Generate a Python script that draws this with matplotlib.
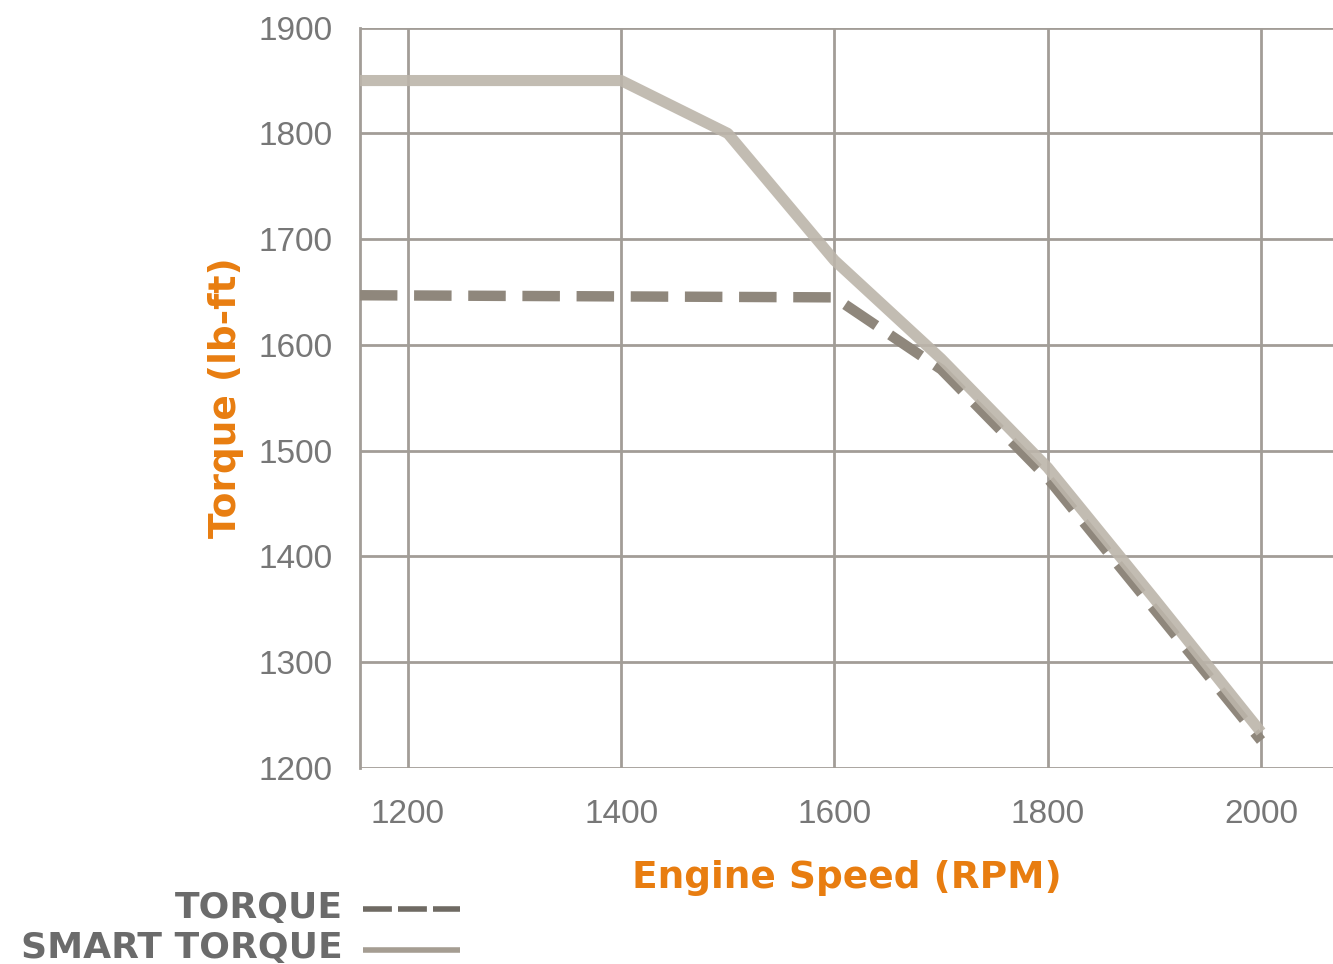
import matplotlib
matplotlib.use("Agg")
import matplotlib.pyplot as plt
from matplotlib.lines import Line2D

# Data
rpm_smart = [1155, 1400, 1500, 1600, 1700, 1800, 1900, 2000]
smart_torque = [1850, 1850, 1800, 1680, 1587, 1484, 1360, 1234]
rpm_torque = [1155, 1600, 1700, 1800, 1900, 2000]
torque = [1647, 1645, 1577, 1474, 1350, 1226]
x_ticks = [1200, 1400, 1600, 1800, 2000]
y_ticks = [1200, 1300, 1400, 1500, 1600, 1700, 1800, 1900]

ORANGE = "#e87d10"
GRID = "#a29d97"
SMART_C = "#bcb5aa"
TORQUE_C = "#8f877c"
TICK_C = "#777777"

fig = plt.figure(figsize=(13.33, 9.64), dpi=100)
ax = fig.add_axes([0.270, 0.2033, 0.730, 0.768])

ax.plot(rpm_torque, torque, color=TORQUE_C, lw=7.5, dashes=(3.6, 1.6),
        solid_capstyle="butt", dash_capstyle="butt", zorder=3)
ax.plot(rpm_smart, smart_torque, color=SMART_C, lw=8.0, alpha=0.9,
        solid_capstyle="butt", solid_joinstyle="round", zorder=4)

ax.set_xlim(1155, 2067.5)
ax.set_ylim(1200, 1900)
ax.set_xticks(x_ticks)
ax.set_yticks(y_ticks)
ax.grid(True, color=GRID, lw=2)
ax.set_axisbelow(True)
for s in ["top", "right", "bottom"]:
    ax.spines[s].set_visible(False)
ax.spines["left"].set_color(GRID)
ax.spines["left"].set_linewidth(2)
ax.tick_params(length=0, labelcolor=TICK_C, labelsize=24)
ax.tick_params(axis="y", pad=20)
ax.tick_params(axis="x", pad=22)
for lab in ax.get_xticklabels() + ax.get_yticklabels():
    lab.set_family("Liberation Sans")

ax.set_xlabel("Engine Speed (RPM)", color=ORANGE, fontsize=27,
              fontweight="bold", family="DejaVu Sans", labelpad=22)
ax.set_ylabel("Torque (lb-ft)", color=ORANGE, fontsize=27,
              fontweight="bold", family="DejaVu Sans", labelpad=10)

# Custom legend at bottom left
fig.text(343 / 1333, 1 - 908 / 964, "TORQUE", ha="right", va="center",
         fontsize=26, fontweight="bold", family="DejaVu Sans", color="#6b6b6b")
fig.text(343 / 1333, 1 - 948 / 964, "SMART TORQUE", ha="right", va="center",
         fontsize=26, fontweight="bold", family="DejaVu Sans", color="#6b6b6b")
fig.add_artist(Line2D([363 / 1333, 460 / 1333], [1 - 909 / 964] * 2,
                      color="#6f6a63", lw=4.0, dashes=(5.2, 1.1),
                      dash_capstyle="butt", solid_capstyle="butt",
                      transform=fig.transFigure))
fig.add_artist(Line2D([363 / 1333, 460 / 1333], [1 - 950 / 964] * 2,
                      color="#a59d92", lw=4.0, solid_capstyle="butt",
                      transform=fig.transFigure))

fig.savefig("out.png", dpi=100)
